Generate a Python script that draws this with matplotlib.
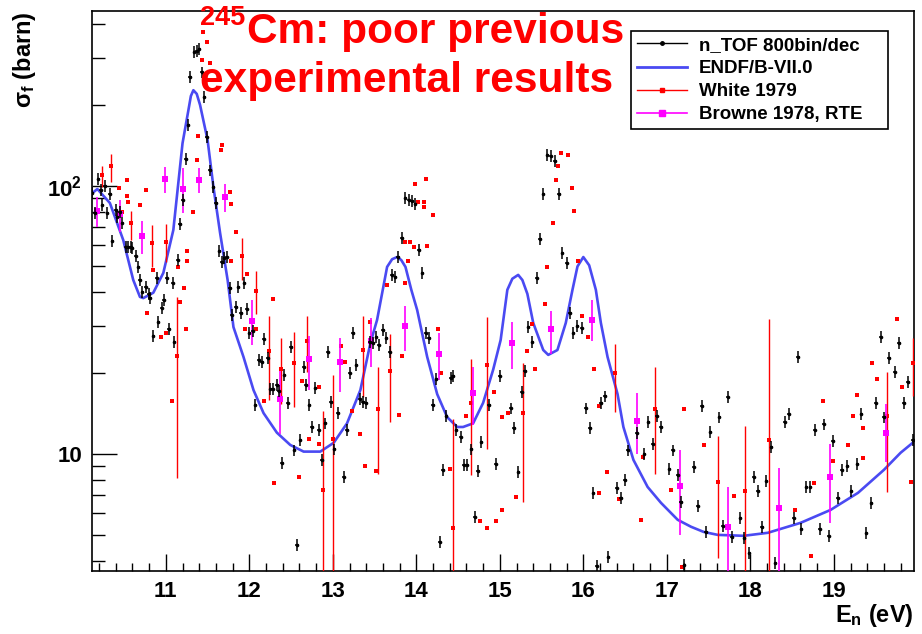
import numpy as np
import matplotlib
matplotlib.use("Agg")
import matplotlib.pyplot as plt
from matplotlib.lines import Line2D
from matplotlib.ticker import FixedLocator, FixedFormatter, MultipleLocator, NullFormatter

# n_TOF 245Cm fission cross section, 800 bins per decade
ntof_e = [10.12, 10.15, 10.19, 10.22, 10.24, 10.27, 10.30, 10.33, 10.36, 10.40,
          10.42, 10.45, 10.48, 10.52, 10.55, 10.58, 10.60, 10.64, 10.67, 10.69,
          10.72, 10.76, 10.80, 10.81, 10.85, 10.89, 10.91, 10.95, 10.98, 11.01,
          11.04, 11.08, 11.10, 11.14, 11.17, 11.20, 11.24, 11.27, 11.29, 11.34,
          11.37, 11.40, 11.43, 11.46, 11.49, 11.53, 11.57, 11.60, 11.64, 11.67,
          11.70, 11.73, 11.77, 11.79, 11.84, 11.87, 11.90, 11.94, 11.97, 12.00,
          12.04, 12.07, 12.11, 12.15, 12.17, 12.22, 12.25, 12.28, 12.33, 12.35,
          12.39, 12.42, 12.46, 12.50, 12.54, 12.57, 12.61, 12.65, 12.68, 12.72,
          12.75, 12.79, 12.83, 12.87, 12.91, 12.94, 12.98, 13.02, 13.06, 13.13,
          13.17, 13.20, 13.24, 13.28, 13.32, 13.36, 13.40, 13.44, 13.48, 13.52,
          13.55, 13.60, 13.64, 13.68, 13.71, 13.75, 13.78, 13.83, 13.87, 13.91,
          13.95, 13.99, 14.03, 14.07, 14.11, 14.15, 14.20, 14.24, 14.28, 14.32,
          14.36, 14.41, 14.44, 14.48, 14.53, 14.57, 14.61, 14.66, 14.70, 14.74,
          14.78, 14.87, 14.95, 15.00, 15.13, 15.17, 15.22, 15.26, 15.30, 15.34,
          15.39, 15.44, 15.48, 15.52, 15.57, 15.61, 15.66, 15.71, 15.75, 15.80,
          15.84, 15.88, 15.93, 15.98, 16.03, 16.08, 16.12, 16.16, 16.21, 16.26,
          16.30, 16.40, 16.45, 16.50, 16.53, 16.64, 16.73, 16.78, 16.83, 16.88,
          16.93, 17.03, 17.07, 17.13, 17.17, 17.21, 17.32, 17.37, 17.42, 17.47,
          17.52, 17.63, 17.67, 17.73, 17.78, 17.88, 17.93, 17.99, 18.04, 18.09,
          18.14, 18.19, 18.25, 18.30, 18.41, 18.46, 18.52, 18.57, 18.61, 18.67,
          18.72, 18.77, 18.83, 18.88, 18.94, 18.99, 19.05, 19.10, 19.16, 19.21,
          19.28, 19.33, 19.39, 19.45, 19.50, 19.56, 19.60, 19.66, 19.73, 19.78,
          19.84, 19.89, 19.95]
ntof_sigma = [93.9, 79.1, 105.9, 96.4, 84.7, 99.7, 79.1, 93.1, 62.2, 81.2,
              76.4, 79.8, 72.6, 59.1, 59.1, 59.1, 58.6, 54.7, 49.8, 44.5,
              40.2, 41.9, 39.5, 38.1, 27.5, 45.3, 31.0, 35.0, 37.5, 45.3,
              29.2, 43.4, 26.1, 52.8, 72.0, 88.5, 125.7, 168.3, 254, 315,
              318, 323, 265, 214, 152, 114, 98.9, 86.2, 57.1, 52.0,
              53.8, 54.2, 41.6, 33.0, 35.3, 41.9, 33.5, 43.4, 34.7, 28.2,
              28.7, 15.2, 22.4, 22.0, 26.8, 22.8, 17.5, 17.5, 18.1, 17.2,
              9.25, 19.7, 15.5, 25.0, 10.3, 4.58, 11.3, 21.1, 18.1, 15.2,
              12.6, 17.6, 12.3, 9.50, 13.0, 24.0, 15.6, 10.4, 14.2, 8.21,
              12.3, 20.0, 28.2, 21.5, 16.0, 15.6, 15.5, 26.1, 25.9, 27.3,
              25.5, 29.0, 27.1, 24.0, 46.5, 45.7, 54.2, 63.9, 90.0, 88.5,
              87.7, 85.5, 57.6, 47.3, 28.2, 27.1, 15.2, 19.0, 4.70, 8.72,
              13.9, 19.2, 19.5, 12.3, 11.6, 9.10, 9.10, 10.4, 5.82, 8.64,
              11.1, 15.2, 9.18, 19.5, 14.8, 12.5, 8.57, 17.0, 20.4, 29.7,
              26.1, 45.3, 63.3, 93.1, 130, 129, 124, 93.1, 56.1, 51.5,
              33.5, 28.2, 30.0, 29.5, 14.8, 12.5, 7.15, 3.82, 15.5, 16.4,
              4.13, 7.47, 6.86, 8.00, 10.3, 12.0, 10.0, 13.2, 10.9, 13.9,
              12.6, 8.80, 10.3, 8.35, 6.62, 3.86, 8.94, 6.40, 15.1, 5.12,
              12.1, 13.7, 5.39, 16.3, 4.91, 5.77, 4.86, 4.28, 8.21, 7.28,
              5.35, 7.93, 10.6, 3.92, 13.2, 14.1, 5.77, 23.0, 5.25, 7.53,
              7.53, 12.3, 5.25, 12.9, 4.95, 11.2, 6.86, 8.72, 9.02, 7.28,
              9.18, 14.1, 5.08, 6.57, 15.5, 27.3, 13.7, 22.8, 20.2, 25.9,
              15.5, 18.6, 11.3]
ntof_rel_err = 0.05
ntof_half_bin = 0.02

# ENDF/B-VII.0 evaluation
endf_e = [10.12, 10.18, 10.33, 10.49, 10.61, 10.69, 10.73, 10.85, 10.97, 11.09,
          11.20, 11.27, 11.30, 11.33, 11.37, 11.41, 11.50, 11.57, 11.65, 11.74,
          11.81, 11.93, 12.05, 12.17, 12.33, 12.49, 12.65, 12.85, 13.01, 13.17,
          13.33, 13.45, 13.53, 13.65, 13.71, 13.77, 13.82, 13.87, 13.94, 14.01,
          14.13, 14.25, 14.37, 14.49, 14.56, 14.68, 14.80, 14.92, 15.01, 15.09,
          15.15, 15.22, 15.27, 15.33, 15.40, 15.52, 15.58, 15.69, 15.79, 15.87,
          15.93, 16.00, 16.07, 16.15, 16.21, 16.29, 16.41, 16.48, 16.60, 16.77,
          16.93, 17.13, 17.29, 17.44, 17.61, 17.92, 18.21, 18.60, 18.96, 19.29,
          19.60, 19.80, 19.96]
endf_sigma = [93.9, 97.2, 86.2, 62.7, 44.5, 38.5, 38.1, 39.9, 47.3, 68.4,
              144, 191, 216, 227, 220, 200, 148, 98.9, 66.6, 44.5,
              29.7, 23.0, 17.3, 14.2, 12.0, 10.8, 10.2, 10.2, 11.0, 13.0,
              17.3, 25.9, 31.6, 49.8, 53.2, 54.2, 52.8, 49.8, 40.9, 34.4,
              23.0, 16.7, 13.7, 12.6, 12.6, 13.0, 15.5, 20.6, 26.6, 40.9,
              45.0, 46.5, 44.5, 39.5, 30.8, 24.4, 23.4, 24.4, 30.8, 40.9,
              50.0, 54.2, 50.5, 40.9, 30.8, 23.0, 16.7, 12.6, 9.5, 7.53,
              6.57, 5.68, 5.35, 5.12, 4.99, 4.95, 5.08, 5.53, 6.18, 7.16,
              8.72, 10.1, 11.1]

# White 1979: points quoted without uncertainty
white_e = [10.44, 10.48, 10.53, 10.53, 10.55, 10.69, 10.76, 10.77, 10.85, 10.94,
           11.00, 11.07, 11.14, 11.17, 11.22, 11.24, 11.25, 11.25, 11.32, 11.37,
           11.39, 11.43, 11.45, 11.49, 11.53, 11.66, 11.67, 11.77, 11.78, 11.78,
           11.84, 11.95, 11.97, 12.08, 12.18, 12.28, 12.30, 12.59, 12.63, 12.72,
           12.83, 12.83, 13.10, 13.15, 13.23, 13.32, 13.39, 13.44, 13.52, 13.65,
           13.79, 13.83, 13.86, 13.86, 13.90, 13.92, 13.97, 13.98, 14.02, 14.09,
           14.09, 14.11, 14.13, 14.20, 14.26, 14.29, 14.40, 14.59, 14.76, 14.85,
           14.93, 14.96, 15.03, 15.03, 15.10, 15.19, 15.33, 15.39, 15.42, 15.54,
           15.57, 15.64, 15.67, 15.70, 15.73, 15.82, 15.86, 15.89, 15.94, 15.98,
           16.06, 16.13, 16.19, 16.19, 16.28, 16.43, 16.69, 16.72, 17.05, 17.18,
           17.21, 17.45, 17.81, 18.54, 18.73, 18.76, 18.87, 18.99, 19.17, 19.23,
           19.28, 19.35, 19.35, 19.46, 19.52, 19.76, 19.82, 19.92]
white_sigma = [98.0, 79.5, 105, 91.5, 87.2, 84.7, 96.0, 33.6, 48.5, 27.2,
               28.3, 15.8, 49.9, 36.7, 41.4, 29.2, 57.2, 52.5, 79.5, 124.7,
               152.8, 294, 373, 344, 287, 135.8, 141.8, 95.1, 85.5, 52.4,
               67.4, 29.2, 46.7, 29.2, 15.8, 37.7, 7.80, 8.23, 18.7, 11.4,
               17.8, 10.9, 25.3, 22.1, 14.4, 11.9, 8.98, 31.1, 8.64, 42.5,
               14.0, 23.2, 43.3, 61.7, 52.4, 61.7, 58.9, 101.2, 87.3, 87.3,
               83.1, 105.9, 59.8, 77.8, 29.2, 20.0, 8.80, 13.8, 5.62, 5.29,
               17.0, 5.62, 13.7, 6.18, 14.2, 6.93, 24.2, 30.6, 20.7, 36.1,
               49.6, 72.8, 105, 118.7, 132.2, 130, 98.2, 80.8, 52.4, 32.8,
               27.2, 20.7, 15.1, 7.14, 8.58, 6.78, 5.68, 9.73, 7.34, 3.79,
               14.7, 10.8, 6.99, 6.18, 4.17, 7.80, 15.8, 9.44, 10.8, 13.8,
               16.6, 12.5, 9.64, 21.8, 19.0, 31.8, 17.7, 7.84]

# White 1979: points with uncertainty (lower and upper ends of the bar)
white_err_e = [10.23, 10.34, 10.58, 10.84, 11.00, 11.13, 11.91, 12.08, 12.24, 12.38,
               12.53, 12.69, 12.88, 13.00, 13.36, 13.54, 13.68, 14.44, 14.66, 14.85,
               15.28, 16.38, 16.86, 17.61, 17.94, 18.22, 19.64, 19.95]
white_err_sigma = [110, 118.4, 72.3, 61.3, 61.8, 23.2, 54.6, 40.5, 24.2, 20.7,
                   21.8, 26.4, 7.34, 11.4, 24.3, 14.7, 20.4, 5.28, 15.45, 21.5,
                   14.2, 20.0, 14.7, 7.84, 7.28, 11.3, 13.8, 21.9]
white_err_lo = [99.3, 103.2, 62.8, 49.8, 52.0, 8.1, 44.5, 33.2, 15.9, 15.4,
                15.0, 20.2, 3.0, 3.0, 16.3, 8.40, 13.1, 3.0, 8.35, 10.4,
                6.62, 14.3, 8.40, 4.09, 3.0, 3.0, 7.22, 16.5]
white_err_hi = [118.7, 131.3, 80.7, 71.4, 72.0, 38.6, 63.7, 48.2, 32.8, 27.0,
                28.6, 32.7, 14.4, 19.7, 32.7, 21.0, 27.9, 13.5, 22.5, 32.5,
                21.8, 25.7, 21.0, 11.7, 12.7, 31.8, 20.2, 27.0]

# Browne 1978, RTE
browne_e = [10.18, 10.45, 10.72, 10.99, 11.21, 11.40, 11.71, 12.03, 12.37, 12.71,
            13.08, 13.46, 13.86, 14.27, 14.68, 15.15, 15.61, 16.10, 16.64, 17.16,
            17.73, 18.34, 18.96, 19.63]
browne_sigma = [80.8, 78.4, 64.9, 105.9, 97.2, 105, 91.0, 31.4, 16.0, 22.5,
                22.1, 26.4, 30.0, 23.6, 16.8, 26.0, 29.2, 31.7, 13.3, 7.62,
                5.36, 6.28, 8.23, 12.0]
browne_lo = [70.3, 67.4, 55.6, 93.7, 78.9, 93.7, 79.6, 25.5, 11.9, 17.3,
             17.0, 21.1, 24.2, 18.9, 12.8, 20.7, 23.5, 26.4, 10.0, 4.99,
             3.0, 3.0, 5.52, 9.34]
browne_hi = [91.0, 88.5, 74.1, 117.7, 116.7, 116.7, 101.2, 37.5, 20.3, 27.5,
             27.0, 32.1, 35.7, 28.3, 21.0, 31.1, 34.2, 37.5, 16.8, 10.3,
             7.55, 8.84, 10.9, 15.3]

plt.rcParams["font.family"] = "Liberation Sans"
plt.rcParams["font.weight"] = "bold"
plt.rcParams["axes.labelweight"] = "bold"
plt.rcParams["mathtext.fontset"] = "custom"
plt.rcParams["mathtext.rm"] = "Liberation Sans:bold"
plt.rcParams["mathtext.it"] = "Liberation Sans:bold"
plt.rcParams["mathtext.bf"] = "Liberation Sans:bold"

c_endf = "#4a4af2"
c_white = "#ff0000"
c_browne = "#ff00ff"

fig = plt.figure(figsize=(9.22, 6.34), dpi=100)
ax = fig.add_axes([0.0998, 0.0994, 0.8915, 0.8832])

ax.plot(endf_e, endf_sigma, color=c_endf, lw=1.9, zorder=2)

we = np.array(white_err_e)
ws = np.array(white_err_sigma)
ax.errorbar(we, ws, yerr=[ws - np.array(white_err_lo), np.array(white_err_hi) - ws],
            fmt="s", ms=3.4, color=c_white, ecolor=c_white, elinewidth=1.0,
            capsize=2.8, capthick=1.0, mew=0, zorder=3)
ax.plot(white_e, white_sigma, "s", ms=3.4, color=c_white, mew=0, zorder=3)

be = np.array(browne_e)
bs = np.array(browne_sigma)
ax.errorbar(be, bs, yerr=[bs - np.array(browne_lo), np.array(browne_hi) - bs],
            fmt="s", ms=5, color=c_browne, ecolor=c_browne, elinewidth=1.2,
            capsize=3, capthick=1.0, mew=0, zorder=4)

ns = np.array(ntof_sigma)
ax.errorbar(ntof_e, ns, yerr=ns * ntof_rel_err, xerr=ntof_half_bin,
            fmt="o", ms=2.6, color="black", ecolor="black", elinewidth=1.1,
            capsize=0, mew=0, zorder=5)

ax.set_yscale("log")
ax.set_xlim(10.116, 19.96)
ax.set_ylim(3.66, 448)

ax.xaxis.set_major_locator(MultipleLocator(1))
ax.xaxis.set_minor_locator(MultipleLocator(0.2))
ax.yaxis.set_major_locator(FixedLocator([10, 100]))
ax.yaxis.set_major_formatter(FixedFormatter(["10", r"$10^{2}$"]))
ax.yaxis.set_minor_locator(FixedLocator([4, 5, 6, 7, 8, 9, 20, 30, 40, 50, 60,
                                         70, 80, 90, 200, 300, 400]))
ax.yaxis.set_minor_formatter(NullFormatter())

ax.tick_params(which="both", direction="in", top=False, right=False, width=1.0)
ax.tick_params(axis="y", which="major", length=18, labelsize=16, pad=7)
ax.tick_params(axis="y", which="minor", length=9.4)
ax.tick_params(axis="x", which="major", length=12.5, labelsize=16, pad=7)
ax.tick_params(axis="x", which="minor", length=6)
for s in ax.spines.values():
    s.set_linewidth(1.2)

ax.set_ylabel(r"$\sigma_{f}$ (barn)", fontsize=17, fontweight="bold", loc="top")
ax.yaxis.set_label_coords(-0.066, 1.0)
ax.set_xlabel(r"$E_{n}$ (eV)", fontsize=17, fontweight="bold", loc="right")
ax.xaxis.set_label_coords(1.0, -0.055)

handles = [
    Line2D([], [], color="black", lw=1.0, marker="o", ms=2.5),
    Line2D([], [], color=c_endf, lw=2.0),
    Line2D([], [], color=c_white, lw=1.0, marker="s", ms=2.5),
    Line2D([], [], color=c_browne, lw=1.2, marker="s", ms=4.5),
]
labels = ["n_TOF 800bin/dec", "ENDF/B-VII.0", "White 1979", "Browne 1978, RTE"]
leg = ax.legend(handles, labels, loc="upper left",
                bbox_to_anchor=(0.656, 0.777, 0.312, 0.187), mode="expand",
                borderaxespad=0, fancybox=False, framealpha=1, edgecolor="black",
                borderpad=0.3, handlelength=2.7, handletextpad=0.6,
                labelspacing=0.32, prop={"weight": "bold", "size": 13.5})
leg.get_frame().set_linewidth(1.2)
leg.set_zorder(10)

fig.text(200 / 922, 1 - 25 / 634, "245", color="red", fontsize=19.5,
         fontweight="bold", va="baseline", ha="left", zorder=11)
fig.text(247 / 922, 1 - 43 / 634, "Cm: poor previous", color="red",
         fontsize=30.5, fontweight="bold", va="baseline", ha="left", zorder=11)
fig.text(200 / 922, 1 - 92 / 634, "experimental results", color="red",
         fontsize=30.5, fontweight="bold", va="baseline", ha="left", zorder=11)

fig.savefig("out.png", dpi=100)
